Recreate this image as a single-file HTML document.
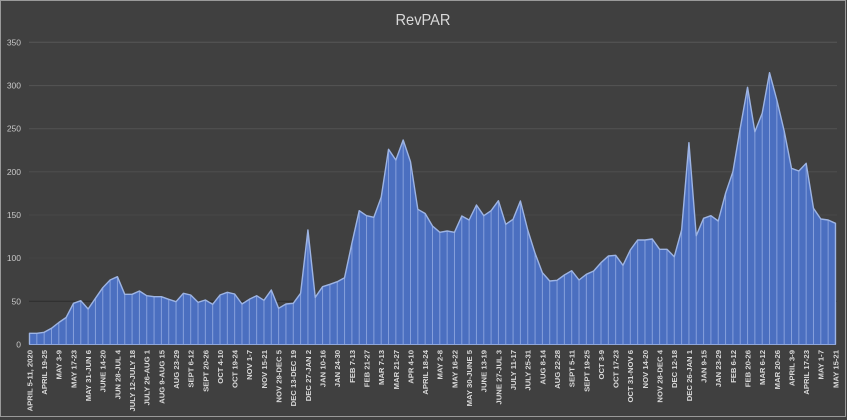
<!DOCTYPE html>
<html><head><meta charset="utf-8"><style>
html,body{margin:0;padding:0;background:#404040;}
svg{display:block;}
text{font-family:"Liberation Sans",sans-serif;}
</style></head><body>
<svg width="847" height="420" viewBox="0 0 847 420" xmlns="http://www.w3.org/2000/svg">
<rect x="0" y="0" width="847" height="420" fill="#404040"/>
<rect x="0.5" y="0.5" width="845" height="416" fill="none" stroke="#9a9a9a" stroke-width="1"/>
<text x="423" y="25" font-size="16" fill="#d9d9d9" text-anchor="middle" textLength="55" lengthAdjust="spacingAndGlyphs">RevPAR</text>
<g stroke-width="1">
<line x1="29" y1="42.3" x2="837" y2="42.3" stroke="#575757"/>
<line x1="29" y1="85.6" x2="837" y2="85.6" stroke="#555555"/>
<line x1="29" y1="128.7" x2="837" y2="128.7" stroke="#535353"/>
<line x1="29" y1="171.8" x2="837" y2="171.8" stroke="#4e4e4e"/>
<line x1="29" y1="215" x2="837" y2="215" stroke="#484848"/>
<line x1="29" y1="258.1" x2="837" y2="258.1" stroke="#444444"/>
<line x1="29" y1="301.3" x2="837" y2="301.3" stroke="#2c2c2c"/>
</g>
<g font-size="8.5" fill="#c8c8c8" text-anchor="end">
<text x="21" y="45.3">350</text>
<text x="21" y="88.5">300</text>
<text x="21" y="131.7">250</text>
<text x="21" y="174.8">200</text>
<text x="21" y="218">150</text>
<text x="21" y="261.1">100</text>
<text x="21" y="304.3">50</text>
<text x="21" y="347.3">0</text>
</g>
<g transform="translate(29.5,0) scale(7.327,1)">
<polygon fill="#4b6fc0" stroke="none" points="0,344.5 0,333.3 1,333.3 2,332.3 3,328.3 4,322.5 5,317.5 6,303.3 7,300.7 8,309 9,298.3 10,287.7 11,280 12,276.7 13,294.3 14,294.3 15,291 16,295.7 17,296.7 18,296.7 19,299.3 20,301.7 21,293.3 22,295 23,302.3 24,300 25,304.3 26,295 27,292.3 28,294 29,304 30,299.3 31,295.7 32,300.3 33,290 34,308.3 35,304 36,303.3 37,293.3 38,230 39,297.3 40,286.7 41,284.3 42,281.7 43,277.7 44,243.3 45,210.7 46,215.7 47,217.3 48,197.3 49,149.3 50,160 51,140 52,161.7 53,209.3 54,213.5 55,226 56,232.3 57,231 58,232.3 59,216 60,220 61,205 62,215.7 63,210.7 64,200.7 65,224.3 66,219.3 67,201 68,230 69,253.3 70,272.7 71,281 72,280.3 73,275 74,270.7 75,280 76,274.3 77,271 78,262.7 79,256 80,255.3 81,265.3 82,250 83,240 84,240 85,239 86,249.3 87,249.3 88,256.7 89,230 90,142.7 91,235.7 92,218.3 93,215.7 94,221 95,193.3 96,171.7 97,128.3 98,87.3 99,131.7 100,113.3 101,72.7 102,100 103,131 104,168.3 105,171 106,163.3 107,208.3 108,219 109,220 110,223.3 110,344.5"/>
<path fill="none" stroke="#86a0dc" stroke-width="1" vector-effect="non-scaling-stroke" d="M1 333.3V344.5M2 332.3V344.5M3 328.3V344.5M4 322.5V344.5M5 317.5V344.5M6 303.3V344.5M7 300.7V344.5M8 309V344.5M9 298.3V344.5M10 287.7V344.5M11 280V344.5M12 276.7V344.5M13 294.3V344.5M14 294.3V344.5M15 291V344.5M16 295.7V344.5M17 296.7V344.5M18 296.7V344.5M19 299.3V344.5M20 301.7V344.5M21 293.3V344.5M22 295V344.5M23 302.3V344.5M24 300V344.5M25 304.3V344.5M26 295V344.5M27 292.3V344.5M28 294V344.5M29 304V344.5M30 299.3V344.5M31 295.7V344.5M32 300.3V344.5M33 290V344.5M34 308.3V344.5M35 304V344.5M36 303.3V344.5M37 293.3V344.5M38 230V344.5M39 297.3V344.5M40 286.7V344.5M41 284.3V344.5M42 281.7V344.5M43 277.7V344.5M44 243.3V344.5M45 210.7V344.5M46 215.7V344.5M47 217.3V344.5M48 197.3V344.5M49 149.3V344.5M50 160V344.5M51 140V344.5M52 161.7V344.5M53 209.3V344.5M54 213.5V344.5M55 226V344.5M56 232.3V344.5M57 231V344.5M58 232.3V344.5M59 216V344.5M60 220V344.5M61 205V344.5M62 215.7V344.5M63 210.7V344.5M64 200.7V344.5M65 224.3V344.5M66 219.3V344.5M67 201V344.5M68 230V344.5M69 253.3V344.5M70 272.7V344.5M71 281V344.5M72 280.3V344.5M73 275V344.5M74 270.7V344.5M75 280V344.5M76 274.3V344.5M77 271V344.5M78 262.7V344.5M79 256V344.5M80 255.3V344.5M81 265.3V344.5M82 250V344.5M83 240V344.5M84 240V344.5M85 239V344.5M86 249.3V344.5M87 249.3V344.5M88 256.7V344.5M89 230V344.5M90 142.7V344.5M91 235.7V344.5M92 218.3V344.5M93 215.7V344.5M94 221V344.5M95 193.3V344.5M96 171.7V344.5M97 128.3V344.5M98 87.3V344.5M99 131.7V344.5M100 113.3V344.5M101 72.7V344.5M102 100V344.5M103 131V344.5M104 168.3V344.5M105 171V344.5M106 163.3V344.5M107 208.3V344.5M108 219V344.5M109 220V344.5"/>
<polyline fill="none" stroke="#9db4e4" stroke-width="1.4" stroke-linejoin="round" vector-effect="non-scaling-stroke" points="0,344.5 0,333.3 1,333.3 2,332.3 3,328.3 4,322.5 5,317.5 6,303.3 7,300.7 8,309 9,298.3 10,287.7 11,280 12,276.7 13,294.3 14,294.3 15,291 16,295.7 17,296.7 18,296.7 19,299.3 20,301.7 21,293.3 22,295 23,302.3 24,300 25,304.3 26,295 27,292.3 28,294 29,304 30,299.3 31,295.7 32,300.3 33,290 34,308.3 35,304 36,303.3 37,293.3 38,230 39,297.3 40,286.7 41,284.3 42,281.7 43,277.7 44,243.3 45,210.7 46,215.7 47,217.3 48,197.3 49,149.3 50,160 51,140 52,161.7 53,209.3 54,213.5 55,226 56,232.3 57,231 58,232.3 59,216 60,220 61,205 62,215.7 63,210.7 64,200.7 65,224.3 66,219.3 67,201 68,230 69,253.3 70,272.7 71,281 72,280.3 73,275 74,270.7 75,280 76,274.3 77,271 78,262.7 79,256 80,255.3 81,265.3 82,250 83,240 84,240 85,239 86,249.3 87,249.3 88,256.7 89,230 90,142.7 91,235.7 92,218.3 93,215.7 94,221 95,193.3 96,171.7 97,128.3 98,87.3 99,131.7 100,113.3 101,72.7 102,100 103,131 104,168.3 105,171 106,163.3 107,208.3 108,219 109,220 110,223.3 110,344.5"/>
</g>
<line x1="29" y1="344.5" x2="836" y2="344.5" stroke="#8ea6dc" stroke-width="1"/>
<g font-size="7.7" font-weight="bold" fill="#d9d9d9" text-anchor="end">
<text transform="translate(32.4,350) rotate(-90)">APRIL 5-11, 2020</text>
<text transform="translate(47.1,350) rotate(-90)">APRIL 19-25</text>
<text transform="translate(61.7,350) rotate(-90)">MAY 3-9</text>
<text transform="translate(76.4,350) rotate(-90)">MAY 17-23</text>
<text transform="translate(91.0,350) rotate(-90)">MAY 31-JUN 6</text>
<text transform="translate(105.7,350) rotate(-90)">JUNE 14-20</text>
<text transform="translate(120.3,350) rotate(-90)">JUN 28-JUL 4</text>
<text transform="translate(135.0,350) rotate(-90)">JULY 12-JULY 18</text>
<text transform="translate(149.6,350) rotate(-90)">JULY 26-AUG 1</text>
<text transform="translate(164.3,350) rotate(-90)">AUG 9-AUG 15</text>
<text transform="translate(178.9,350) rotate(-90)">AUG 23-29</text>
<text transform="translate(193.6,350) rotate(-90)">SEPT 6-12</text>
<text transform="translate(208.3,350) rotate(-90)">SEPT 20-26</text>
<text transform="translate(222.9,350) rotate(-90)">OCT 4-10</text>
<text transform="translate(237.6,350) rotate(-90)">OCT 19-24</text>
<text transform="translate(252.2,350) rotate(-90)">NOV 1-7</text>
<text transform="translate(266.9,350) rotate(-90)">NOV 15-21</text>
<text transform="translate(281.5,350) rotate(-90)">NOV 29-DEC 5</text>
<text transform="translate(296.2,350) rotate(-90)">DEC 13-DEC 19</text>
<text transform="translate(310.8,350) rotate(-90)">DEC 27-JAN 2</text>
<text transform="translate(325.5,350) rotate(-90)">JAN 10-16</text>
<text transform="translate(340.1,350) rotate(-90)">JAN 24-30</text>
<text transform="translate(354.8,350) rotate(-90)">FEB 7-13</text>
<text transform="translate(369.4,350) rotate(-90)">FEB 21-27</text>
<text transform="translate(384.1,350) rotate(-90)">MAR 7-13</text>
<text transform="translate(398.8,350) rotate(-90)">MAR 21-27</text>
<text transform="translate(413.4,350) rotate(-90)">APR 4-10</text>
<text transform="translate(428.1,350) rotate(-90)">APRIL 18-24</text>
<text transform="translate(442.7,350) rotate(-90)">MAY 2-8</text>
<text transform="translate(457.4,350) rotate(-90)">MAY 16-22</text>
<text transform="translate(472.0,350) rotate(-90)">MAY 30-JUNE 5</text>
<text transform="translate(486.7,350) rotate(-90)">JUNE 13-19</text>
<text transform="translate(501.3,350) rotate(-90)">JUNE 27-JUL 3</text>
<text transform="translate(516.0,350) rotate(-90)">JULY 11-17</text>
<text transform="translate(530.6,350) rotate(-90)">JULY 25-31</text>
<text transform="translate(545.3,350) rotate(-90)">AUG 8-14</text>
<text transform="translate(559.9,350) rotate(-90)">AUG 22-28</text>
<text transform="translate(574.6,350) rotate(-90)">SEPT 5-11</text>
<text transform="translate(589.3,350) rotate(-90)">SEPT 19-25</text>
<text transform="translate(603.9,350) rotate(-90)">OCT 3-9</text>
<text transform="translate(618.6,350) rotate(-90)">OCT 17-23</text>
<text transform="translate(633.2,350) rotate(-90)">OCT 31-NOV 6</text>
<text transform="translate(647.9,350) rotate(-90)">NOV 14-20</text>
<text transform="translate(662.5,350) rotate(-90)">NOV 28-DEC 4</text>
<text transform="translate(677.2,350) rotate(-90)">DEC 12-18</text>
<text transform="translate(691.8,350) rotate(-90)">DEC 26-JAN 1</text>
<text transform="translate(706.5,350) rotate(-90)">JAN 9-15</text>
<text transform="translate(721.1,350) rotate(-90)">JAN 23-29</text>
<text transform="translate(735.8,350) rotate(-90)">FEB 6-12</text>
<text transform="translate(750.4,350) rotate(-90)">FEB 20-26</text>
<text transform="translate(765.1,350) rotate(-90)">MAR 6-12</text>
<text transform="translate(779.8,350) rotate(-90)">MAR 20-26</text>
<text transform="translate(794.4,350) rotate(-90)">APRIL 3-9</text>
<text transform="translate(809.1,350) rotate(-90)">APRIL 17-23</text>
<text transform="translate(823.7,350) rotate(-90)">MAY 1-7</text>
<text transform="translate(838.4,350) rotate(-90)">MAY 15-21</text>
</g>
</svg>
</body></html>
